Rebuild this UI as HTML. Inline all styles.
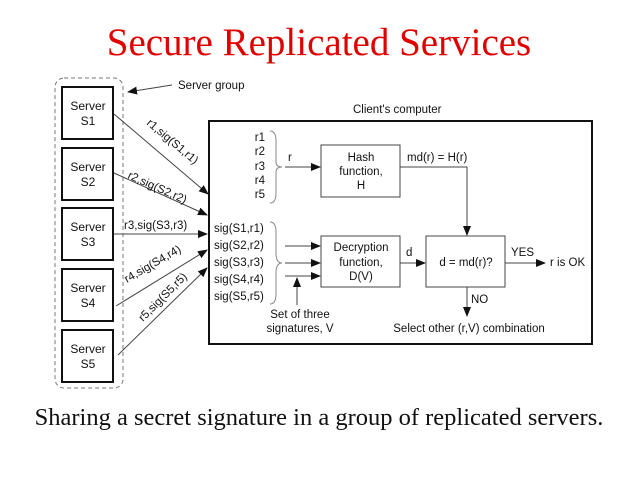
<!DOCTYPE html>
<html><head><style>
body{margin:0;background:#fff;width:638px;height:478px;overflow:hidden}
</style></head><body>
<svg width="638" height="478" xmlns="http://www.w3.org/2000/svg" font-family="Liberation Sans, sans-serif" font-size="11.5" fill="#111">
<defs><marker id="a" markerWidth="10" markerHeight="8" refX="9" refY="4" orient="auto" markerUnits="userSpaceOnUse"><path d="M0,0 L10,4 L0,8 z" fill="#111"/></marker></defs>
<text x="319" y="55" font-family="Liberation Serif, serif" font-size="39" fill="#e00000" text-anchor="middle">Secure Replicated Services</text>
<rect x="55" y="78" width="68" height="310" rx="9" fill="none" stroke="#777" stroke-dasharray="4,3"/>
<g fill="none" stroke="#111" stroke-width="2">
<rect x="62" y="87" width="51" height="52"/><rect x="62" y="148" width="51" height="52"/><rect x="62" y="208" width="51" height="52"/><rect x="62" y="269" width="51" height="52"/><rect x="62" y="330" width="51" height="52"/>
<rect x="209" y="121" width="383" height="223"/>
</g>
<g text-anchor="middle" font-size="12">
<text x="88" y="110">Server</text><text x="88" y="125">S1</text>
<text x="88" y="171">Server</text><text x="88" y="186">S2</text>
<text x="88" y="231">Server</text><text x="88" y="246">S3</text>
<text x="88" y="292">Server</text><text x="88" y="307">S4</text>
<text x="88" y="353">Server</text><text x="88" y="368">S5</text>
</g>
<g stroke="#444" fill="none" marker-end="url(#a)">
<line x1="172" y1="85" x2="128" y2="92"/>
<line x1="114" y1="114" x2="208" y2="194"/>
<line x1="114" y1="173" x2="207" y2="215"/>
<line x1="114" y1="234" x2="207" y2="234"/>
<line x1="116" y1="306" x2="207" y2="250"/>
<line x1="118" y1="355" x2="207" y2="268"/>
<line x1="285" y1="167" x2="320" y2="167"/>
<line x1="285" y1="246" x2="320" y2="246"/>
<line x1="285" y1="263" x2="320" y2="263"/>
<line x1="285" y1="276" x2="320" y2="276"/>
<line x1="400" y1="263" x2="425" y2="263"/>
<line x1="505" y1="263" x2="545" y2="263"/>
<line x1="467" y1="287" x2="467" y2="316"/>
<line x1="297" y1="305" x2="297" y2="278"/>
<polyline points="400,167 467,167 467,235"/>
</g>
<text x="178" y="89">Server group</text>
<text x="146" y="124" transform="rotate(40 146 124)">r1,sig(S1,r1)</text>
<text x="127" y="178" transform="rotate(24 127 178)">r2,sig(S2,r2)</text>
<text x="124" y="229">r3,sig(S3,r3)</text>
<text x="127" y="283" transform="rotate(-30 127 283)">r4,sig(S4,r4)</text>
<text x="143" y="322" transform="rotate(-45 143 322)">r5,sig(S5,r5)</text>
<text x="353" y="113">Client's computer</text>
<g fill="none" stroke="#888"><path d="M270,131 q6,0 6,10 v21 q0,5 6,5 q-6,0 -6,5 v21 q0,10 -6,10"/>
<path d="M270,222 q6,0 6,10 v21 q0,10 6,10 q-6,0 -6,10 v21 q0,10 -6,10"/></g>
<g text-anchor="end"><text x="265" y="141">r1</text><text x="265" y="155">r2</text><text x="265" y="170">r3</text><text x="265" y="184">r4</text><text x="265" y="198">r5</text></g>
<text x="288" y="161">r</text>
<text x="214" y="232">sig(S1,r1)</text><text x="214" y="249">sig(S2,r2)</text><text x="214" y="266">sig(S3,r3)</text><text x="214" y="283">sig(S4,r4)</text><text x="214" y="300">sig(S5,r5)</text>
<g fill="#fff" stroke="#444"><rect x="321" y="145" width="79" height="52"/><rect x="321" y="236" width="79" height="51"/><rect x="426" y="236" width="79" height="51"/></g>
<g text-anchor="middle">
<text x="361" y="161">Hash</text><text x="361" y="175">function,</text><text x="361" y="189">H</text>
<text x="361" y="251">Decryption</text><text x="361" y="266">function,</text><text x="361" y="280">D(V)</text>
<text x="466" y="266">d = md(r)?</text>
<text x="300" y="318">Set of three</text><text x="300" y="332">signatures, V</text>
<text x="469" y="332">Select other (r,V) combination</text>
</g>
<text x="407" y="161">md(r) = H(r)</text>
<text x="406" y="256">d</text>
<text x="511" y="256">YES</text>
<text x="550" y="266">r is OK</text>
<text x="471" y="303">NO</text>
<text x="319" y="425" font-family="Liberation Serif, serif" font-size="24.5" text-anchor="middle">Sharing a secret signature in a group of replicated servers.</text>
</svg>
</body></html>
